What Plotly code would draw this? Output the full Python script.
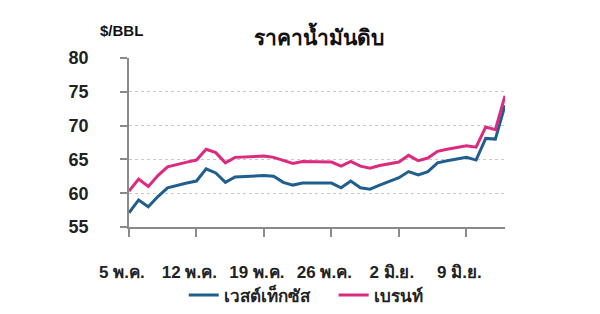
import pandas as pd
import plotly.graph_objects as go

# daily dates, 5 May .. 13 Jun
dates = pd.date_range("2021-05-05", periods=40, freq="D")

wti = [57.1, 59.0, 58.0, 59.5, 60.8, 61.2, 61.5, 61.8, 63.6, 63.0,
       61.6, 62.4, 62.5, 62.5, 62.6, 62.5, 61.6, 61.2, 61.5, 61.5,
       61.5, 61.5, 60.8, 61.8, 60.8, 60.6, 61.2, 61.8, 62.3, 63.2,
       62.7, 63.2, 64.5, 64.8, 65.0, 65.3, 64.9, 68.1, 68.0, 73.0]

brent = [60.3, 62.1, 61.0, 62.6, 63.9, 64.3, 64.6, 64.9, 66.5, 66.0,
         64.5, 65.3, 65.4, 65.5, 65.5, 65.3, 64.9, 64.4, 64.7, 64.7,
         64.7, 64.6, 64.0, 64.7, 64.0, 63.7, 64.1, 64.3, 64.6, 65.6,
         64.8, 65.2, 66.2, 66.5, 66.8, 67.0, 66.8, 69.8, 69.4, 74.4]

tick_dates = ["2021-05-05", "2021-05-12", "2021-05-19", "2021-05-26", "2021-06-02", "2021-06-09"]
tick_labels = ["5 พ.ค.", "12 พ.ค.", "19 พ.ค.", "26 พ.ค.", "2 มิ.ย.", "9 มิ.ย."]

y_ticks = [55, 60, 65, 70, 75, 80]

FONT = "Liberation Sans Narrow, Arial Narrow, Liberation Sans, Arial, sans-serif"
NB = "\u00a0"

fig = go.Figure()
fig.add_trace(go.Scatter(x=dates, y=wti, mode="lines", name="เวสต์เท็กซัส" + NB * 4,
                         line=dict(color="#1f5e8e", width=3)))
fig.add_trace(go.Scatter(x=dates, y=brent, mode="lines", name="เบรนท์",
                         line=dict(color="#dc2a7e", width=3)))

fig.update_layout(
    width=600, height=314,
    margin=dict(l=129, r=95, t=58, b=87, autoexpand=False),
    paper_bgcolor="white", plot_bgcolor="white",
    font=dict(family=FONT, size=16, color="#222222"),
    showlegend=True,
    legend=dict(orientation="h", x=0.47, xanchor="center", y=-0.405, yanchor="middle",
                font=dict(size=17, color="#222222", weight="bold"),
                itemwidth=30, tracegroupgap=0, bgcolor="rgba(0,0,0,0)"),
    annotations=[
        dict(text="ราคาน้ำมันดิบ", xref="paper", yref="paper", x=0.505, y=1.0,
             yshift=23, xanchor="center", yanchor="middle", showarrow=False,
             font=dict(size=21, color="#111111", weight="bold")),
        dict(text="$/BBL", xref="paper", yref="paper", x=0, xshift=16, y=1.0,
             yshift=28, xanchor="right", yanchor="middle", showarrow=False,
             font=dict(size=15, color="#111111", weight="bold")),
    ],
)

fig.update_xaxes(
    type="date",
    range=[dates[0], dates[-1]],
    tickvals=tick_dates, ticktext=[t + NB * 3 for t in tick_labels],
    tickangle=0,
    showgrid=False, zeroline=False, automargin=False,
    showline=True, linecolor="#8a8a8a", linewidth=1.5,
    ticks="outside", ticklen=8, tickcolor="#8a8a8a", tickwidth=1.5,
    ticklabelstandoff=21,
    tickfont=dict(size=17, color="#222222", weight="bold"),
)
fig.update_yaxes(
    range=[55, 80],
    tickvals=y_ticks,
    showgrid=True, gridcolor="#c8c8c8", griddash="dot", gridwidth=1,
    zeroline=False, automargin=False,
    showline=True, linecolor="#8a8a8a", linewidth=1.5,
    ticks="outside", ticklen=7, tickcolor="#8a8a8a", tickwidth=1.5,
    ticklabelstandoff=28,
    tickfont=dict(size=18, color="#222222", weight="bold"),
)

fig.write_html("out.html")
